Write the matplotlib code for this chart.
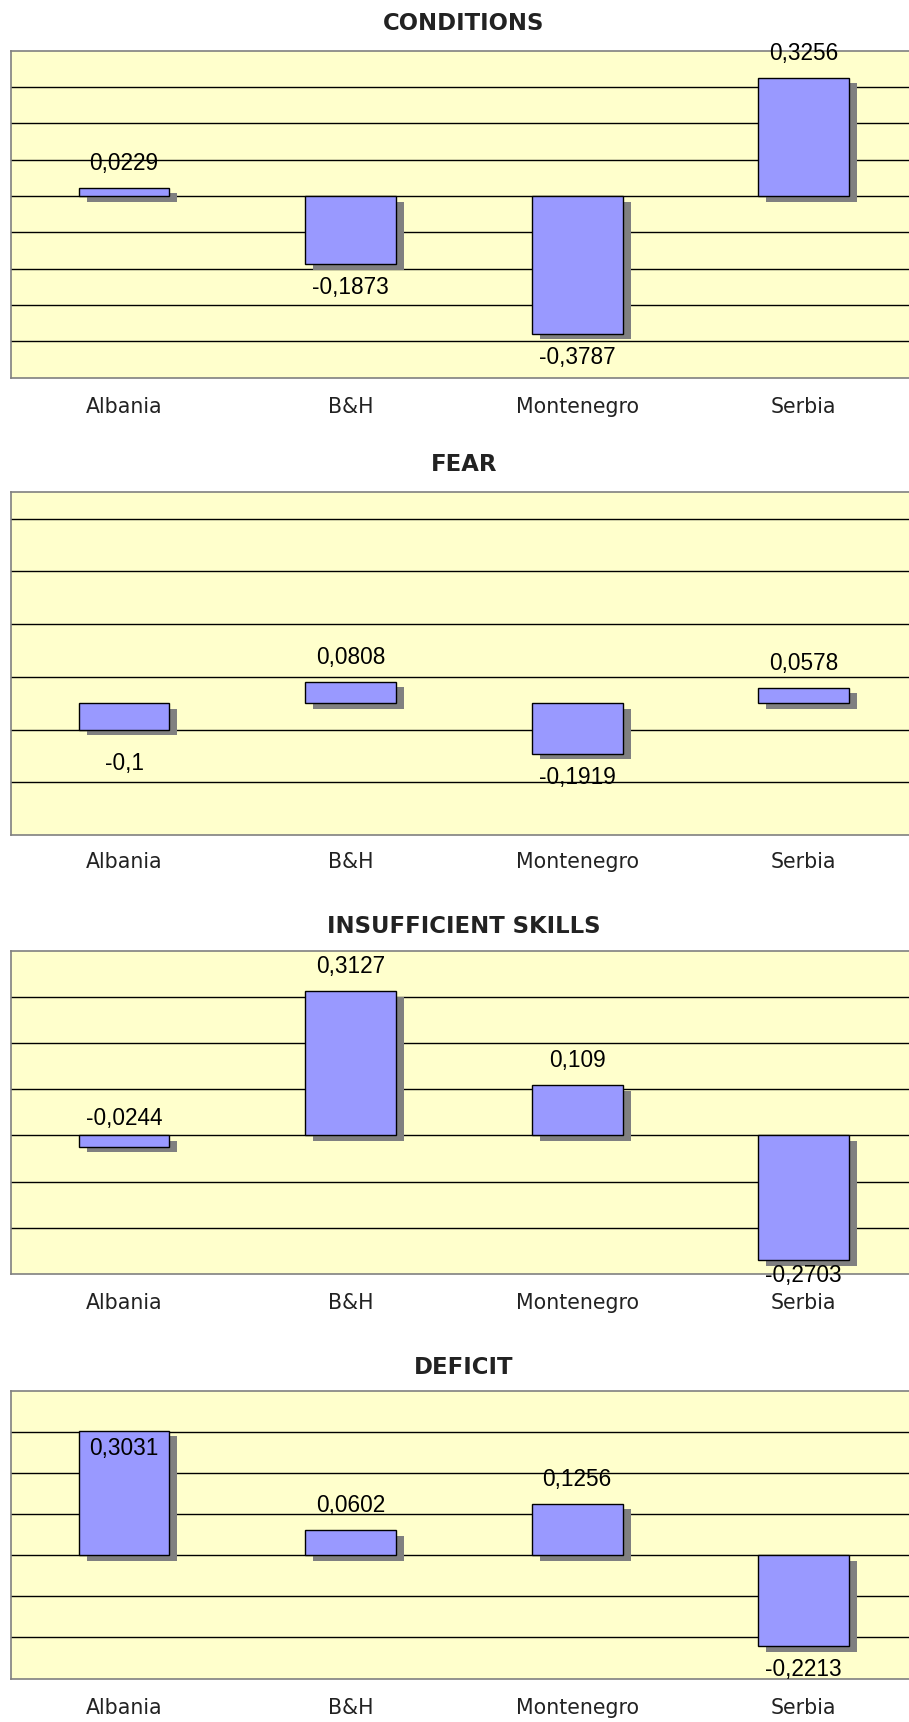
import matplotlib
matplotlib.use('Agg')
import matplotlib.pyplot as plt
from matplotlib.transforms import ScaledTranslation

countries = ['Albania', 'B&H', 'Montenegro', 'Serbia']
titles = ['CONDITIONS', 'FEAR', 'INSUFFICIENT SKILLS', 'DEFICIT']

conditions = [0.0229, -0.1873, -0.3787, 0.3256]
fear = [-0.1, 0.0808, -0.1919, 0.0578]
skills = [-0.0244, 0.3127, 0.109, -0.2703]
deficit = [0.3031, 0.0602, 0.1256, -0.2213]
series = [conditions, fear, skills, deficit]

# axis ranges and gridline positions as in the original chart
ylims = [(-0.5, 0.4), (-0.5, 0.8), (-0.3, 0.4), (-0.3, 0.4)]
gridticks = [
    [-0.4, -0.3, -0.2, -0.1, 0.0, 0.1, 0.2, 0.3],
    [-0.3, -0.1, 0.1, 0.3, 0.5, 0.7],
    [-0.2, -0.1, 0.0, 0.1, 0.2, 0.3],
    [-0.2, -0.1, 0.0, 0.1, 0.2, 0.3],
]

# layout in pixels (figure 909 x 1722, dpi 100)
W, H = 909, 1722
axes_px = [(50.7, 377.7), (492.3, 835.0), (950.7, 1274.0), (1390.7, 1678.5)]
title_pad_px = [20.5, 21, 18, 17]
xlab_pad_px = [14.5, 12, 14, 15]
left_px = 10.7
width_px = 906.4

# label offsets (px) that differ from Excel's default placement
label_override = {(1, 0): -34, (2, 0): 28, (2, 3): -15, (3, 0): -17.6}

fig = plt.figure(figsize=(W / 100, H / 100), dpi=100)

for i in range(4):
    top, bot = axes_px[i]
    ax = fig.add_axes([left_px / W, 1 - bot / H, width_px / W, (bot - top) / H])
    ax.set_facecolor('#FFFFCC')
    vals = series[i]
    x = list(range(len(countries)))

    shadow = ax.transData + ScaledTranslation(0.08, -0.055, fig.dpi_scale_trans)
    ax.bar(x, vals, width=0.4, color='#808080', linewidth=0, transform=shadow, zorder=2)
    ax.bar(x, vals, width=0.4, color='#9999FF', edgecolor='black', linewidth=1.0, zorder=3)

    ax.set_xlim(-0.5, 3.5)
    ax.set_ylim(*ylims[i])
    ax.set_yticks(gridticks[i])
    ax.yaxis.grid(True, color='black', linewidth=1.0)
    ax.set_axisbelow(True)
    ax.tick_params(axis='y', left=False, labelleft=False)
    ax.set_xticks(x)
    ax.set_xticklabels(countries, fontsize=14.8, family='DejaVu Sans', color='#222222')
    ax.tick_params(axis='x', bottom=False, pad=xlab_pad_px[i] * 0.72)
    for s in ['left', 'top', 'bottom', 'right']:
        ax.spines[s].set_color('#808080')
        ax.spines[s].set_linewidth(1.2)

    ax.set_title(titles[i], fontsize=16.4, fontweight='bold', family='DejaVu Sans',
                 color='#222222', pad=title_pad_px[i] * 0.72)

    for j, v in enumerate(vals):
        off = label_override.get((i, j), 24.5 if v >= 0 else -23.5)
        ax.annotate(str(v).replace('.', ','), (j, v), xytext=(0, off * 0.72),
                    textcoords='offset points', ha='center', va='center',
                    fontsize=16.3, family='Liberation Sans', color='black', zorder=5,
                    annotation_clip=False)

fig.savefig('out.png', dpi=100)
